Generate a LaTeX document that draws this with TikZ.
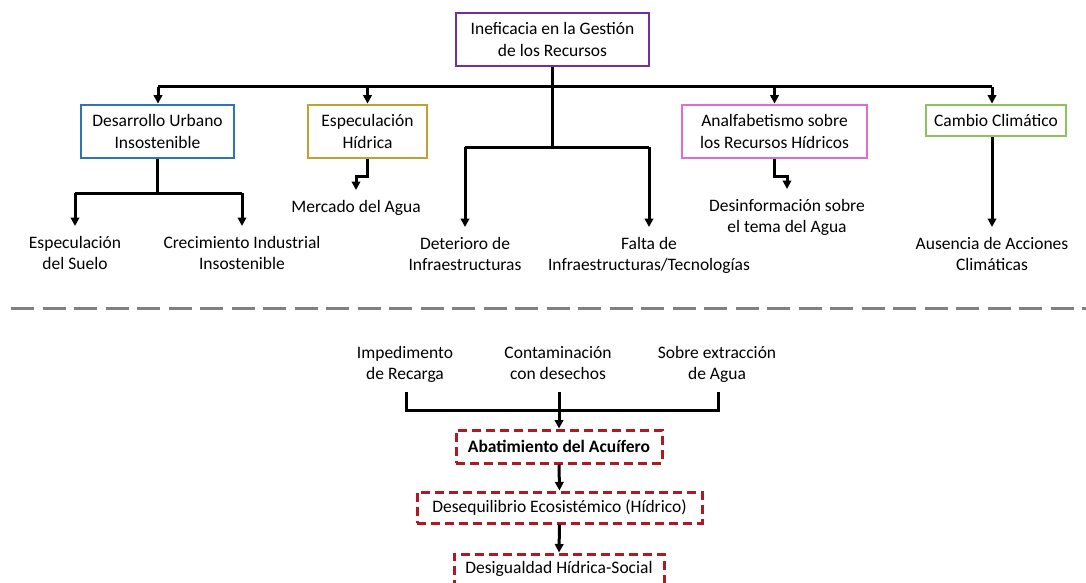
\documentclass[tikz,border=0pt]{standalone}
\usepackage{fontspec}
\setmainfont{Carlito}
\usetikzlibrary{arrows.meta}
\definecolor{cpurple}{RGB}{112,48,160}
\definecolor{cblue}{RGB}{46,117,182}
\definecolor{cgold}{RGB}{196,160,48}
\definecolor{cpink}{RGB}{222,108,214}
\definecolor{cgreen}{RGB}{140,196,90}
\definecolor{cred}{RGB}{175,25,35}
\definecolor{cgray}{RGB}{128,128,128}
\begin{document}
\begin{tikzpicture}[x=1pt,y=-1pt,
  box/.style={draw, line width=2.8pt, fill=white, align=center, inner sep=0pt, font=\fontsize{17.5}{22.5}\selectfont},
  rbox/.style={box, draw=cred, line width=3pt, dash pattern=on 9pt off 5pt},
  lbl/.style={align=center, inner xsep=0pt, inner ysep=10pt, outer sep=0pt, font=\fontsize{17.5}{21.5}\selectfont},
  ln/.style={line width=3pt},
  conn/.style={ln, -{Triangle[length=8.5pt,width=8.5pt]}}]
\useasboundingbox (0,0) rectangle (1086,583);
\fill[white] (0,0) rectangle (1086,583);

% level 0
\node[box, draw=cpurple, minimum width=193pt, minimum height=53pt] (top) at (552.5,39.5) {Ineficacia en la Gestión\\de los Recursos};

% level 1 boxes
\node[box, draw=cblue, minimum width=153pt, minimum height=53pt] (dev) at (157.5,131.5) {Desarrollo Urbano\\Insostenible};
\node[box, draw=cgold, minimum width=119pt, minimum height=53pt] (esp) at (367.5,131.5) {Especulación\\Hídrica};
\node[box, draw=cpink, minimum width=185pt, minimum height=53pt] (ana) at (774.5,131.5) {Analfabetismo sobre\\los Recursos Hídricos};
\node[box, draw=cgreen, minimum width=140pt, minimum height=31pt] (cam) at (996,120.5) {Cambio Climático};

% leaves
\node[lbl, anchor=north] (sue) at (75,226) {Especulación\\del Suelo};
\node[lbl, anchor=north] (cre) at (242,226) {Crecimiento Industrial\\Insostenible};
\node[lbl, anchor=north] (mer) at (356,190) {Mercado del Agua};
\node[lbl, anchor=north] (det) at (465,227) {Deterioro de\\Infraestructuras};
\node[lbl, anchor=north] (fal) at (649,227) {Falta de\\Infraestructuras/Tecnologías};
\node[lbl, anchor=north] (dis) at (787,189) {Desinformación sobre\\el tema del Agua};
\node[lbl, anchor=north] (aus) at (992,227) {Ausencia de Acciones\\Climáticas};

% junction coordinates
\coordinate (hy) at (0,87);
\coordinate (hl) at (158,87);
\coordinate (hr) at (992,87);
\coordinate (my) at (0,147);
\coordinate (dy) at (0,193);

% top distribution
\draw[ln] (top.south) -- (top.south |- hy);
\draw[ln] (hl) -- (hr);
\draw[conn] (hl) -- (hl |- dev.north);
\draw[conn] (esp.north |- hy) -- (esp.north);
\draw[conn] (ana.north |- hy) -- (ana.north);
\draw[conn] (hr) -- (hr |- cam.north);

% middle branch
\draw[ln] (top.south |- hy) -- (top.south |- my);
\draw[ln] (det.north |- my) -- (fal.north |- my);
\draw[conn] (det.north |- my) -- (det.north);
\draw[conn] (fal.north |- my) -- (fal.north);

% desarrollo branch
\draw[ln] (dev.south) -- (dev.south |- dy);
\draw[ln] (sue.north |- dy) -- (cre.north |- dy);
\draw[conn] (sue.north |- dy) -- (sue.north);
\draw[conn] (cre.north |- dy) -- (cre.north);

% especulacion branch
\draw[conn] (esp.south) -- ++(0,17) -| (mer.north);
% analfabetismo branch
\draw[conn] (ana.south) -- ++(0,17) -| (dis.north);
% cambio branch
\draw[conn] (aus.north |- cam.south) -- (aus.north);

% separator
\draw[cgray, line width=3pt, dash pattern=on 23pt off 8.5pt] (11,308) -- (1086,308);

% bottom part
\node[lbl, anchor=north] (imp) at (405,336) {Impedimento\\de Recarga};
\node[lbl, anchor=north] (con) at (558,336) {Contaminación\\con desechos};
\node[lbl, anchor=north] (sob) at (717,336) {Sobre extracción\\de Agua};

\node[rbox, minimum width=206pt, minimum height=33pt, font=\fontsize{17.5}{22}\selectfont\bfseries] (aba) at (559,446.5) {Abatimiento del Acuífero};
\node[rbox, minimum width=285pt, minimum height=31pt] (deq) at (559.5,507.5) {Desequilibrio Ecosistémico (Hídrico)};
\node[rbox, minimum width=210pt, minimum height=30pt] (dsg) at (559,569) {Desigualdad Hídrica-Social};

\coordinate (by) at (0,392);
\coordinate (jy) at (0,410);
\draw[ln] (406,0 |- by) -- (406,0 |- jy) -- (718,0 |- jy) -- (718,0 |- by);
\draw[conn] (aba.north |- by) -- (aba.north);
\draw[conn] (aba.south) -- (deq.north);
\draw[conn] (deq.south) -- (dsg.north);
\end{tikzpicture}
\end{document}
